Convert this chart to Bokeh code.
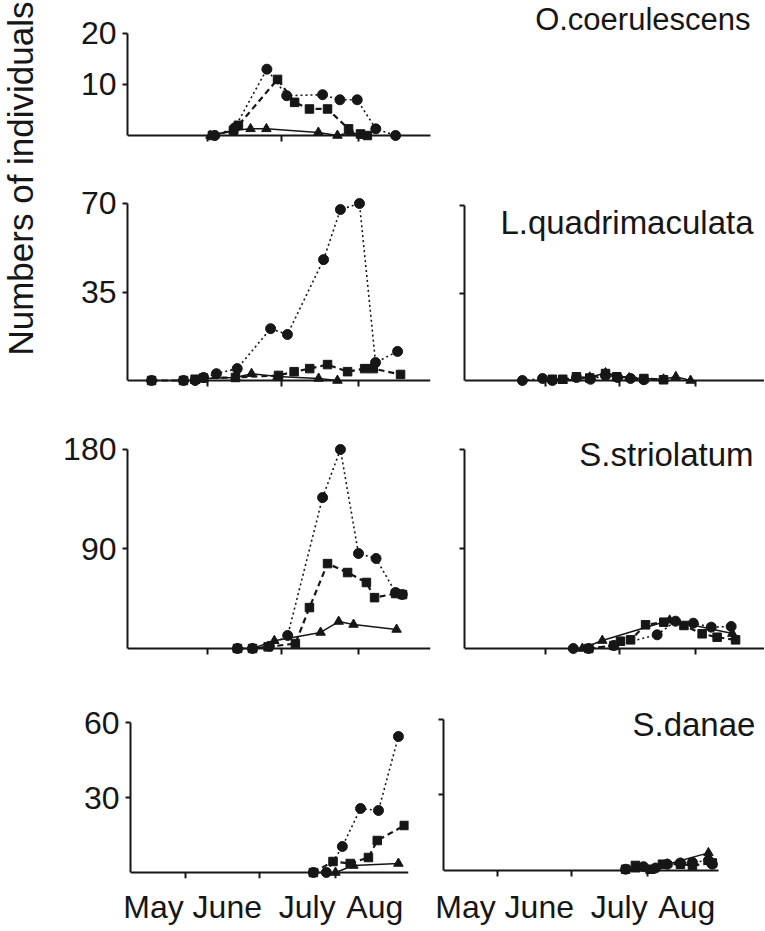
import math
from bokeh.plotting import figure
from bokeh.layouts import row, column
from bokeh.models import FixedTicker, Range1d, Label, LinearAxis
from bokeh.embed import file_html
from bokeh.resources import INLINE

INK = "#161616"
FONT = "Liberation Sans"

# days counted from 1 May (1 June = 31, 1 July = 61, 1 Aug = 92)
month_starts = [31, 61, 92]
month_names = ["May", "June", "July", "Aug"]
month_label_day = [18, 48, 80.5, 108]

# ---- O.coerulescens (left only)
oc_dot_day = [34, 42, 55, 63, 77.5, 84.5, 91.5, 99, 107]
oc_dot_n = [0, 1.5, 13, 7.8, 8, 7, 7, 1.3, 0]
oc_dash_day = [33, 41.5, 43.5, 59.3, 66.2, 72.2, 79.5, 88, 92.8, 95.6]
oc_dash_n = [0, 1, 2, 11, 6.5, 5.2, 5.2, 1.3, 0.3, 0]
oc_solid_day = [32.2, 41.5, 48.4, 54.8, 75.8, 83.5, 88.8, 94]
oc_solid_n = [0, 1, 1.3, 1.3, 0.6, 0, 0.6, 0]

# ---- L.quadrimaculata
lq_dot_day = [8.4, 21.3, 26, 29.4, 34.6, 43, 56.5, 63.3, 77.9, 84.7, 92.4, 98.9, 107.8]
lq_dot_n = [0, 0, 0, 1.2, 2.7, 4.7, 20.5, 18.2, 47.8, 67.6, 70, 7.1, 11.5]
lq_dash_day = [8.4, 21.3, 26, 29.4, 42.3, 59.7, 66, 72.3, 79.5, 87.6, 94.5, 98, 109]
lq_dash_n = [0, 0, 0.5, 1, 1.2, 2, 3.5, 4.7, 6.3, 3.5, 4.7, 4.7, 2.4]
lq_solid_day = [26, 29.4, 42.3, 48.8, 59.3, 75.9, 83.5]
lq_solid_n = [0, 0.8, 1.2, 2.7, 1.6, 0.8, 0]

lqr_dot_day = [21.6, 29.8, 33.8, 43.6, 49.3, 55.4, 60.3, 65.6, 71]
lqr_dot_n = [0, 0.8, 0, 1.2, 0.5, 2, 1.2, 0.8, 0.3]
lqr_dash_day = [33.8, 38, 43.6, 49, 55.4, 60, 71, 79]
lqr_dash_n = [0.5, 0.5, 1.5, 1, 2.8, 1.5, 0.8, 0.3]
lqr_solid_day = [38, 49, 55.4, 65, 79, 84, 90]
lqr_solid_n = [0, 1.3, 3, 1, 0.5, 1.5, 0]

# ---- S.striolatum
ss_dot_day = [43.1, 49.2, 56, 63.4, 77.5, 84.7, 92, 99.1, 107, 109.7]
ss_dot_n = [0, 0, 2, 11.8, 136.5, 180, 85.9, 81.4, 50.6, 48.8]
ss_dash_day = [43.1, 49.2, 55.5, 66.5, 72.2, 79.5, 87.6, 95.2, 98.5, 107, 109.8]
ss_dash_n = [0, 0, 1.5, 4.5, 37, 76.8, 68.7, 59.7, 46, 49.7, 48.8]
ss_solid_day = [43.1, 49.2, 58, 76.7, 84, 90, 107.4]
ss_solid_n = [0, 0, 7, 14.5, 24.4, 21.7, 17.2]

ssr_dot_day = [42.3, 48.6, 58.8, 76.4, 83.9, 91.1, 98.4, 106.5]
ssr_dot_n = [0, 0, 2.7, 12.4, 24.7, 22.9, 19.3, 19.9]
ssr_dash_day = [48.6, 58.8, 61.5, 65.6, 71.7, 79.1, 87.3, 94.7, 100.8, 108.3]
ssr_dash_n = [0, 2.7, 6.6, 7.8, 21.4, 23.8, 20.8, 13.3, 10.2, 7.8]
ssr_solid_day = [46, 54.1, 81.5, 107]
ssr_solid_n = [0, 7.2, 25.5, 13.5]

# ---- S.danae
sd_dot_day = [83, 88.3, 94.8, 102.2, 109.5, 117.6]
sd_dot_n = [0, 0, 10.4, 25.6, 24.8, 54.4]
sd_dash_day = [83, 91, 98, 105.4, 109, 120]
sd_dash_n = [0, 4.4, 3.6, 6, 12.8, 18.8]
sd_solid_day = [92, 99.3, 117.6]
sd_solid_n = [0, 2.8, 3.6]

sdr_dot_day = [83.1, 90.4, 95.3, 100.1, 105.4, 110.3, 116.8, 118.4]
sdr_dot_n = [0.5, 1.5, 1, 2.5, 3, 3.2, 4, 2.5]
sdr_dash_day = [83.1, 87.1, 93.2, 98.1, 105.4, 110.3, 118.4]
sdr_dash_n = [0.5, 2, 0.5, 2.5, 2.5, 2, 3]
sdr_solid_day = [87.1, 93.2, 100.1, 116.8]
sdr_solid_n = [0.5, 0, 2.5, 7]


def series(dot, dot_n, dash, dash_n, solid, solid_n):
    return [
        (solid, solid_n, "triangle", "solid", 1.5, 9.5),
        (dash, dash_n, "square", "6 4", 2.2, 8.5),
        (dot, dot_n, "circle", "2 3", 1.6, 10),
    ]


def blank(w, h):
    p = figure(width=w, height=h, x_range=Range1d(0, w), y_range=Range1d(0, h),
               x_axis_location=None, y_axis_location=None, title=None,
               output_backend="svg", toolbar_location=None,
               min_border=0, min_border_left=0, min_border_right=0,
               min_border_top=0, min_border_bottom=0,
               background_fill_color="white", border_fill_color="white")
    p.outline_line_color = None
    p.xgrid.visible = False
    p.ygrid.visible = False
    return p


def panel(w, h, border, xr, yr, yticks, show_labels, data, xbounds=None, xside="below"):
    bl, br, bt, bb = border
    p = figure(width=w, height=h, x_range=Range1d(*xr), y_range=Range1d(*yr),
               title=None, output_backend="svg", toolbar_location=None,
               x_axis_location=xside,
               min_border_left=bl, min_border_right=br,
               min_border_top=bt, min_border_bottom=bb,
               background_fill_color="white", border_fill_color="white")
    p.outline_line_color = None
    p.xgrid.visible = False
    p.ygrid.visible = False

    xa = p.xaxis[0]
    xa.ticker = FixedTicker(ticks=month_starts)
    xa.fixed_location = 0
    xa.major_label_overrides = {t: "" for t in month_starts}
    xa.major_label_text_font_size = "0px"
    xa.major_label_standoff = 0
    if xside == "below":
        xa.major_tick_out = 6
        xa.major_tick_in = 0
    else:
        # axis kept in the top panel; ticks drawn downwards from the zero line
        xa.major_tick_out = 0
        xa.major_tick_in = 6
    xa.minor_tick_line_color = None
    xa.axis_line_color = INK
    xa.axis_line_width = 2
    xa.major_tick_line_color = INK
    xa.major_tick_line_width = 2
    if xbounds is not None:
        xa.bounds = xbounds

    ya = p.yaxis[0]
    ya.ticker = FixedTicker(ticks=yticks)
    ya.bounds = (0, yticks[-1])
    ya.major_tick_out = 5
    ya.major_tick_in = 0
    ya.minor_tick_line_color = None
    ya.axis_line_color = INK
    ya.axis_line_width = 2
    ya.major_tick_line_color = INK
    ya.major_tick_line_width = 2
    if show_labels:
        ya.major_label_text_font = FONT
        ya.major_label_text_font_size = "32px"
        ya.major_label_text_color = INK
        ya.major_label_standoff = 6
    else:
        ya.major_label_overrides = {t: "" for t in yticks}
        ya.major_label_text_font_size = "0px"
        ya.major_label_standoff = 0

    for days, counts, marker, dash, lw, size in data:
        p.line(days, counts, line_color=INK, line_width=lw, line_dash=dash)
        p.scatter(days, counts, marker=marker, size=size,
                  fill_color=INK, line_color=INK)
    return p


def add_title(p, text, x, y, size="33px"):
    p.add_layout(Label(x=x, y=y, text=text, text_align="right",
                       text_baseline="alphabetic", text_font=FONT,
                       text_font_size=size, text_color=INK))


def add_months(p):
    ax = LinearAxis(ticker=FixedTicker(ticks=month_label_day),
                    major_label_overrides={d: m for d, m in zip(month_label_day, month_names)})
    ax.axis_line_color = None
    ax.major_tick_line_color = None
    ax.minor_tick_line_color = None
    ax.major_label_text_font = FONT
    ax.major_label_text_font_size = "32px"
    ax.major_label_text_color = INK
    ax.major_label_standoff = 4
    p.add_layout(ax, "below")


# ---------------- row 1 (single wide figure, title inside the frame)
f1 = panel(716, 163, (79, 0, 0, 20), (-1.32, 256.05), (-1.57, 26.47), [10, 20], True,
           series(oc_dot_day, oc_dot_n, oc_dash_day, oc_dash_n, oc_solid_day, oc_solid_n),
           xbounds=(-1.32, 121.1))
add_title(f1, "O.coerulescens", 250.4, 22.8, "31px")

# ---------------- row 2
f2l = panel(392, 245, (79, 10, 12, 20), (-1.32, 121.1), (-3.16, 81.07), [35, 70], True,
            series(lq_dot_day, lq_dot_n, lq_dash_day, lq_dash_n, lq_solid_day, lq_solid_n))
f2r = panel(324, 245, (24, 0, 12, 20), (-1.94, 120.06), (-3.2, 82.0), [35, 70], False,
            series(lqr_dot_day, lqr_dot_n, lqr_dash_day, lqr_dash_n, lqr_solid_day, lqr_solid_n))
add_title(f2r, "L.quadrimaculata", 115.6, 63.4)

# ---------------- row 3
f3l = panel(392, 268, (79, 10, 13, 20), (-1.32, 121.1), (-7.24, 205.3), [90, 180], True,
            series(ss_dot_day, ss_dot_n, ss_dash_day, ss_dash_n, ss_solid_day, ss_solid_n))
f3r = panel(324, 268, (24, 0, 13, 20), (-1.94, 120.06), (-7.24, 205.3), [90, 180], False,
            series(ssr_dot_day, ssr_dot_n, ssr_dash_day, ssr_dash_n, ssr_solid_day, ssr_solid_n))
add_title(f3r, "S.striolatum", 115.6, 175.8)

# ---------------- row 4 (month names on an extra bottom axis)
f4l = panel(365, 252, (82, 5, 20, 50), (8.63, 121.7), (-2.4, 70.4), [30, 60], True,
            series(sd_dot_day, sd_dot_n, sd_dash_day, sd_dash_n, sd_solid_day, sd_solid_n),
            xside="above")
f4r = panel(351, 252, (30, 0, 20, 50), (9.04, 139.6), (-3.18, 69.14), [30, 60], False,
            series(sdr_dot_day, sdr_dot_n, sdr_dash_day, sdr_dash_n, sdr_solid_day, sdr_solid_n),
            xbounds=(9.04, 120.9), xside="above")
add_title(f4r, "S.danae", 135.9, 58.2)
add_months(f4l)
add_months(f4r)

# ---------------- y axis title
lab = blank(48, 928)
lab.add_layout(Label(x=19.5, y=750, text="Numbers of individuals", angle=math.pi / 2,
                     text_align="center", text_baseline="alphabetic", text_font=FONT,
                     text_font_size="35px", text_color=INK))

main = column(f1, row(f2l, f2r), row(f3l, f3r), row(f4l, f4r))
page = row(lab, main)

open("out.html", "w").write(file_html(page, INLINE))
